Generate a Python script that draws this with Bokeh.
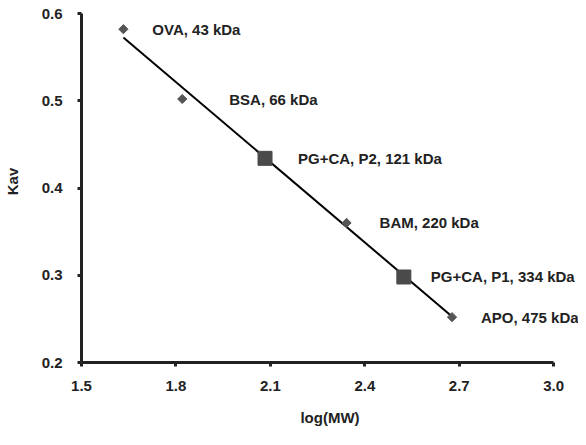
import numpy as np
from bokeh.plotting import figure
from bokeh.models import ColumnDataSource, Range1d, FixedTicker, LabelSet
from bokeh.core.properties import value
from bokeh.embed import file_html
from bokeh.resources import INLINE

# Standards (diamonds)
std_names = ["OVA, 43 kDa", "BSA, 66 kDa", "BAM, 220 kDa", "APO, 475 kDa"]
std_logmw = [1.633, 1.820, 2.342, 2.677]
std_kav = [0.582, 0.502, 0.360, 0.252]

# Samples (squares)
smp_names = ["PG+CA, P2, 121 kDa", "PG+CA, P1, 334 kDa"]
smp_logmw = [2.083, 2.524]
smp_kav = [0.434, 0.298]

x_ticks = [1.5, 1.8, 2.1, 2.4, 2.7, 3.0]
y_ticks = [0.2, 0.3, 0.4, 0.5, 0.6]

# label pixel offsets (presentation)
std_xoff = [29, 47, 33, 29]
smp_xoff = [33, 27]

FONT = "Liberation Sans"
INK = "#222222"

# frame geometry: x axis 1.5..3.0 over 476 px; extra room right for labels
W, H = 578, 429
LEFT, BOTTOM = 77, 67
fw, fh = W - LEFT, H - BOTTOM
xpx = 476 / 1.5
x_end = 1.5 + fw / xpx
top_pad = 13
ypx = (fh - top_pad) / 0.4
y_end = 0.6 + top_pad / ypx

p = figure(width=W, height=H, output_backend="svg", toolbar_location=None,
           x_range=Range1d(1.5, x_end), y_range=Range1d(0.2, y_end),
           min_border_left=LEFT, min_border_right=0, min_border_top=0,
           min_border_bottom=BOTTOM)
p.outline_line_color = None
p.xgrid.visible = False
p.ygrid.visible = False

# regression line through standards
slope, intercept = np.polyfit(std_logmw, std_kav, 1)
lx = np.array([min(std_logmw), max(std_logmw)])
p.line(lx, slope * lx + intercept, line_color="black", line_width=2)

std_src = ColumnDataSource(dict(x=std_logmw, y=std_kav, name=std_names, xo=std_xoff))
smp_src = ColumnDataSource(dict(x=smp_logmw, y=smp_kav, name=smp_names, xo=smp_xoff))

p.scatter("x", "y", source=std_src, marker="square", angle=np.pi / 4, size=6.5,
          fill_color="#555555", line_color="#555555")
p.scatter("x", "y", source=smp_src, marker="square", size=14,
          fill_color="#4a4a4a", line_color="#4a4a4a")

for src in (std_src, smp_src):
    lab = LabelSet(x="x", y="y", text="name", source=src, x_offset="xo", y_offset=0,
                   text_font=value(FONT), text_font_style="bold", text_font_size="15px",
                   text_baseline="middle", text_align="left", text_color=INK)
    p.add_layout(lab)

p.xaxis.bounds = (1.5, 3.0)
p.yaxis.bounds = (0.2, 0.6)
for ax in (p.xaxis[0], p.yaxis[0]):
    ax.axis_line_width = 3
    ax.axis_line_color = INK
    ax.major_tick_line_width = 3
    ax.major_tick_line_color = INK
    ax.major_tick_out = 4
    ax.major_tick_in = 0
    ax.minor_tick_line_color = None
    ax.major_label_text_font = FONT
    ax.major_label_text_font_style = "bold"
    ax.major_label_text_font_size = "15px"
    ax.major_label_text_color = INK
    ax.axis_label_text_font = FONT
    ax.axis_label_text_font_style = "bold"
    ax.axis_label_text_font_size = "15px"
    ax.axis_label_text_color = INK

p.xaxis.ticker = FixedTicker(ticks=x_ticks)
p.yaxis.ticker = FixedTicker(ticks=y_ticks)
p.xaxis.major_label_overrides = {t: f"{t:.1f}" for t in x_ticks}
p.yaxis.major_label_overrides = {t: f"{t:.1f}" for t in y_ticks}
p.xaxis.axis_label = "log(MW)"
p.yaxis.axis_label = "Kav"
p.xaxis.major_label_standoff = 14
p.xaxis.axis_label_standoff = 15
p.yaxis.major_label_standoff = 15
p.yaxis.axis_label_standoff = 18

open("out.html", "w").write(file_html(p, INLINE))
